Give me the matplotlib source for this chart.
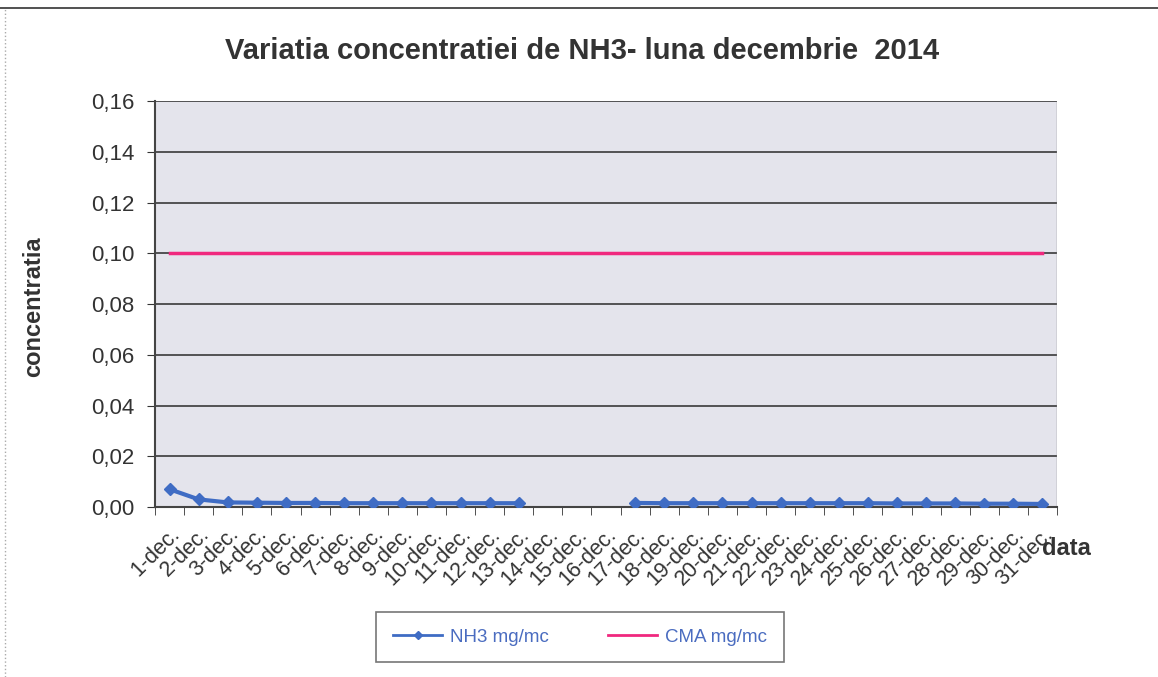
import matplotlib
matplotlib.use("Agg")
import matplotlib.pyplot as plt
import numpy as np
from matplotlib.ticker import FixedLocator, FuncFormatter

days = [f"{i}-dec." for i in range(1, 32)]
nh3 = [0.007, 0.003, 0.0018, 0.0017, 0.0016, 0.0016, 0.0015, 0.0015, 0.0015, 0.0015,
       0.0015, 0.0015, 0.0015, np.nan, np.nan, np.nan, 0.0016, 0.0015, 0.0015, 0.0015,
       0.0015, 0.0015, 0.0015, 0.0015, 0.0015, 0.0014, 0.0014, 0.0014, 0.0013, 0.0013, 0.0012]
cma = [0.10] * 31
yticks = [0.00, 0.02, 0.04, 0.06, 0.08, 0.10, 0.12, 0.14, 0.16]

plt.rcParams['font.family'] = ['Liberation Sans', 'DejaVu Sans']

fig = plt.figure(figsize=(11.58, 6.77), dpi=100)
ax = fig.add_axes([0.1339, 0.2511, 0.7789, 0.5997])
ax.set_facecolor('#e4e4ec')

x = np.arange(len(days))
ax.plot(x, nh3, color='#3f6cc4', lw=3, marker='D', ms=6, label='NH3 mg/mc', zorder=3)
ax.plot(x, cma, color='#f0287e', lw=2.5, label='CMA mg/mc', zorder=3)

ax.set_xlim(-0.5, len(days) - 0.5)
ax.set_ylim(0, 0.16)
ax.set_yticks(yticks)
ax.yaxis.set_major_formatter(FuncFormatter(lambda v, p: f"{v:.2f}".replace('.', ',')))
ax.grid(axis='y', color='#2a2a2a', lw=1.1)
ax.set_axisbelow(True)

ax.set_xticks(x)
ax.set_xticklabels(days, rotation=45, ha='right', rotation_mode='anchor', fontsize=15.5, color='#333333')
ax.tick_params(axis='x', length=0, pad=12)
ax.xaxis.set_minor_locator(FixedLocator(np.arange(-0.5, len(days), 1)))
ax.tick_params(axis='x', which='minor', length=6, color='#333333')
ax.tick_params(axis='y', labelsize=16, length=6, pad=9, colors='#333333', labelcolor='#333333')

for s in ['top', 'right']:
    ax.spines[s].set_visible(False)
ax.spines['left'].set_color('#444444')
ax.spines['bottom'].set_color('#444444')
ax.spines['left'].set_linewidth(1.5)
ax.spines['bottom'].set_linewidth(1.5)
ax.axvline(len(days) - 0.5, color='#888888', lw=1)

fig.text(0.503, 0.925, "Variatia concentratiei de NH3- luna decembrie  2014",
         ha='center', va='center', fontsize=21, fontweight='bold', color='#333333')
fig.text(0.029, 0.547, "concentratia", rotation=90, ha='center', va='center',
         fontsize=17, fontweight='bold', color='#333333')
fig.text(0.900, 0.190, "data", ha='left', va='center', fontsize=17, fontweight='bold', color='#333333')

leg = fig.legend(loc='center', bbox_to_anchor=(0.5009, 0.059), ncol=2, frameon=True,
                 fancybox=False, edgecolor='#555555', fontsize=13.5, handlelength=2.6,
                 handletextpad=0.4, columnspacing=3.2, borderpad=0.9, borderaxespad=0,
                 labelcolor='#4a6cc0')
leg.get_frame().set_linewidth(1.2)
for h in leg.legend_handles:
    h.set_linewidth(2)
    if h.get_marker() == 'D':
        h.set_markersize(4)

fig.add_artist(plt.Line2D([0.0, 1.0], [0.988, 0.988], color='#333333', lw=1.2, transform=fig.transFigure))
fig.add_artist(plt.Line2D([0.004, 0.004], [0.0, 0.988], color='#aaaaaa', lw=1, ls=':', transform=fig.transFigure))

fig.savefig("out.png", dpi=100, facecolor='white')
